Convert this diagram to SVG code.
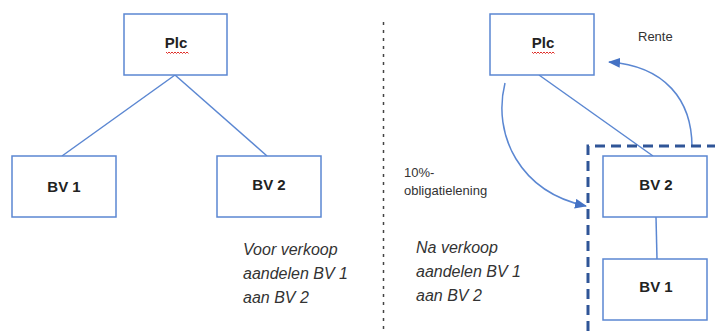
<svg xmlns="http://www.w3.org/2000/svg" width="715" height="331" viewBox="0 0 715 331">
<style>
.box{fill:#fff;stroke:#5B87D2;stroke-width:1.5}
.con{fill:none;stroke:#5B87D2;stroke-width:1.5}
.lbl{font-family:"Liberation Sans",Arial,sans-serif;font-weight:bold;font-size:15px;fill:#222;text-anchor:middle}
.note{font-family:"Liberation Sans",Arial,sans-serif;font-style:italic;font-size:16px;fill:#333}
.sm{font-family:"Liberation Sans",Arial,sans-serif;font-size:13px;fill:#333}
.wavy{fill:none;stroke:#e0302a;stroke-width:1}
</style>
<defs>
<marker id="arr" markerWidth="12" markerHeight="10" refX="11" refY="5" orient="auto" markerUnits="userSpaceOnUse">
<path d="M0,0 L12,5 L0,10 Z" fill="#4472C4"/>
</marker>
</defs>
<rect width="715" height="331" fill="#fff"/>
<line x1="383.5" y1="22" x2="383.5" y2="331" stroke="#444" stroke-width="1.5" stroke-dasharray="3,5"/>
<g id="connectors">
<line class="con" x1="175" y1="75" x2="62" y2="156"/>
<line class="con" x1="175" y1="75" x2="267" y2="156"/>
<line class="con" x1="539" y1="75" x2="653" y2="156"/>
<line class="con" x1="656" y1="217" x2="657" y2="259"/>
<path class="con" d="M505,83 C492,135 520,192 586,206" marker-end="url(#arr)"/>
<path class="con" d="M692,147 C692,100 665,66 609,62" marker-end="url(#arr)"/>
</g>
<g id="group-dashed">
<path d="M588,331 L588,146 L715,146" fill="none" stroke="#2F5597" stroke-width="3" stroke-dasharray="10,6"/>
</g>
<g id="plc-left">
<rect class="box" x="124" y="14" width="103" height="61"/>
<text class="lbl" x="176" y="48">Plc</text>
<path class="wavy" d="M166,52 l1.5,1.5 l1.5,-1.5 l1.5,1.5 l1.5,-1.5 l1.5,1.5 l1.5,-1.5 l1.5,1.5 l1.5,-1.5 l1.5,1.5 l1.5,-1.5 l1.5,1.5 l1.5,-1.5 l1.5,1.5 l1.5,-1.5 l1.5,1.5"/>
</g>
<g id="bv1-left">
<rect class="box" x="12" y="156" width="104" height="61"/>
<text class="lbl" x="64" y="192">BV 1</text>
</g>
<g id="bv2-left">
<rect class="box" x="217" y="156" width="104" height="61"/>
<text class="lbl" x="269" y="190">BV 2</text>
</g>
<g id="note-left">
<text class="note" x="243" y="255">Voor verkoop</text>
<text class="note" x="243" y="279">aandelen BV 1</text>
<text class="note" x="243" y="303">aan BV 2</text>
</g>
<g id="plc-right">
<rect class="box" x="490" y="14" width="104" height="61"/>
<text class="lbl" x="543" y="48">Plc</text>
<path class="wavy" d="M532,52 l1.5,1.5 l1.5,-1.5 l1.5,1.5 l1.5,-1.5 l1.5,1.5 l1.5,-1.5 l1.5,1.5 l1.5,-1.5 l1.5,1.5 l1.5,-1.5 l1.5,1.5 l1.5,-1.5 l1.5,1.5 l1.5,-1.5 l1.5,1.5"/>
</g>
<g id="bv2-right">
<rect class="box" x="603" y="156" width="104" height="61"/>
<text class="lbl" x="656" y="190">BV 2</text>
</g>
<g id="bv1-right">
<rect class="box" x="603" y="259" width="104" height="61"/>
<text class="lbl" x="656" y="292">BV 1</text>
</g>
<g id="labels-right">
<text class="sm" x="638" y="41">Rente</text>
<text class="sm" x="404" y="177" font-size="13.5">10%-</text>
<text class="sm" x="404" y="195" font-size="13.5">obligatielening</text>
<text class="note" x="416" y="253">Na verkoop</text>
<text class="note" x="416" y="277">aandelen BV 1</text>
<text class="note" x="416" y="301">aan BV 2</text>
</g>
</svg>
